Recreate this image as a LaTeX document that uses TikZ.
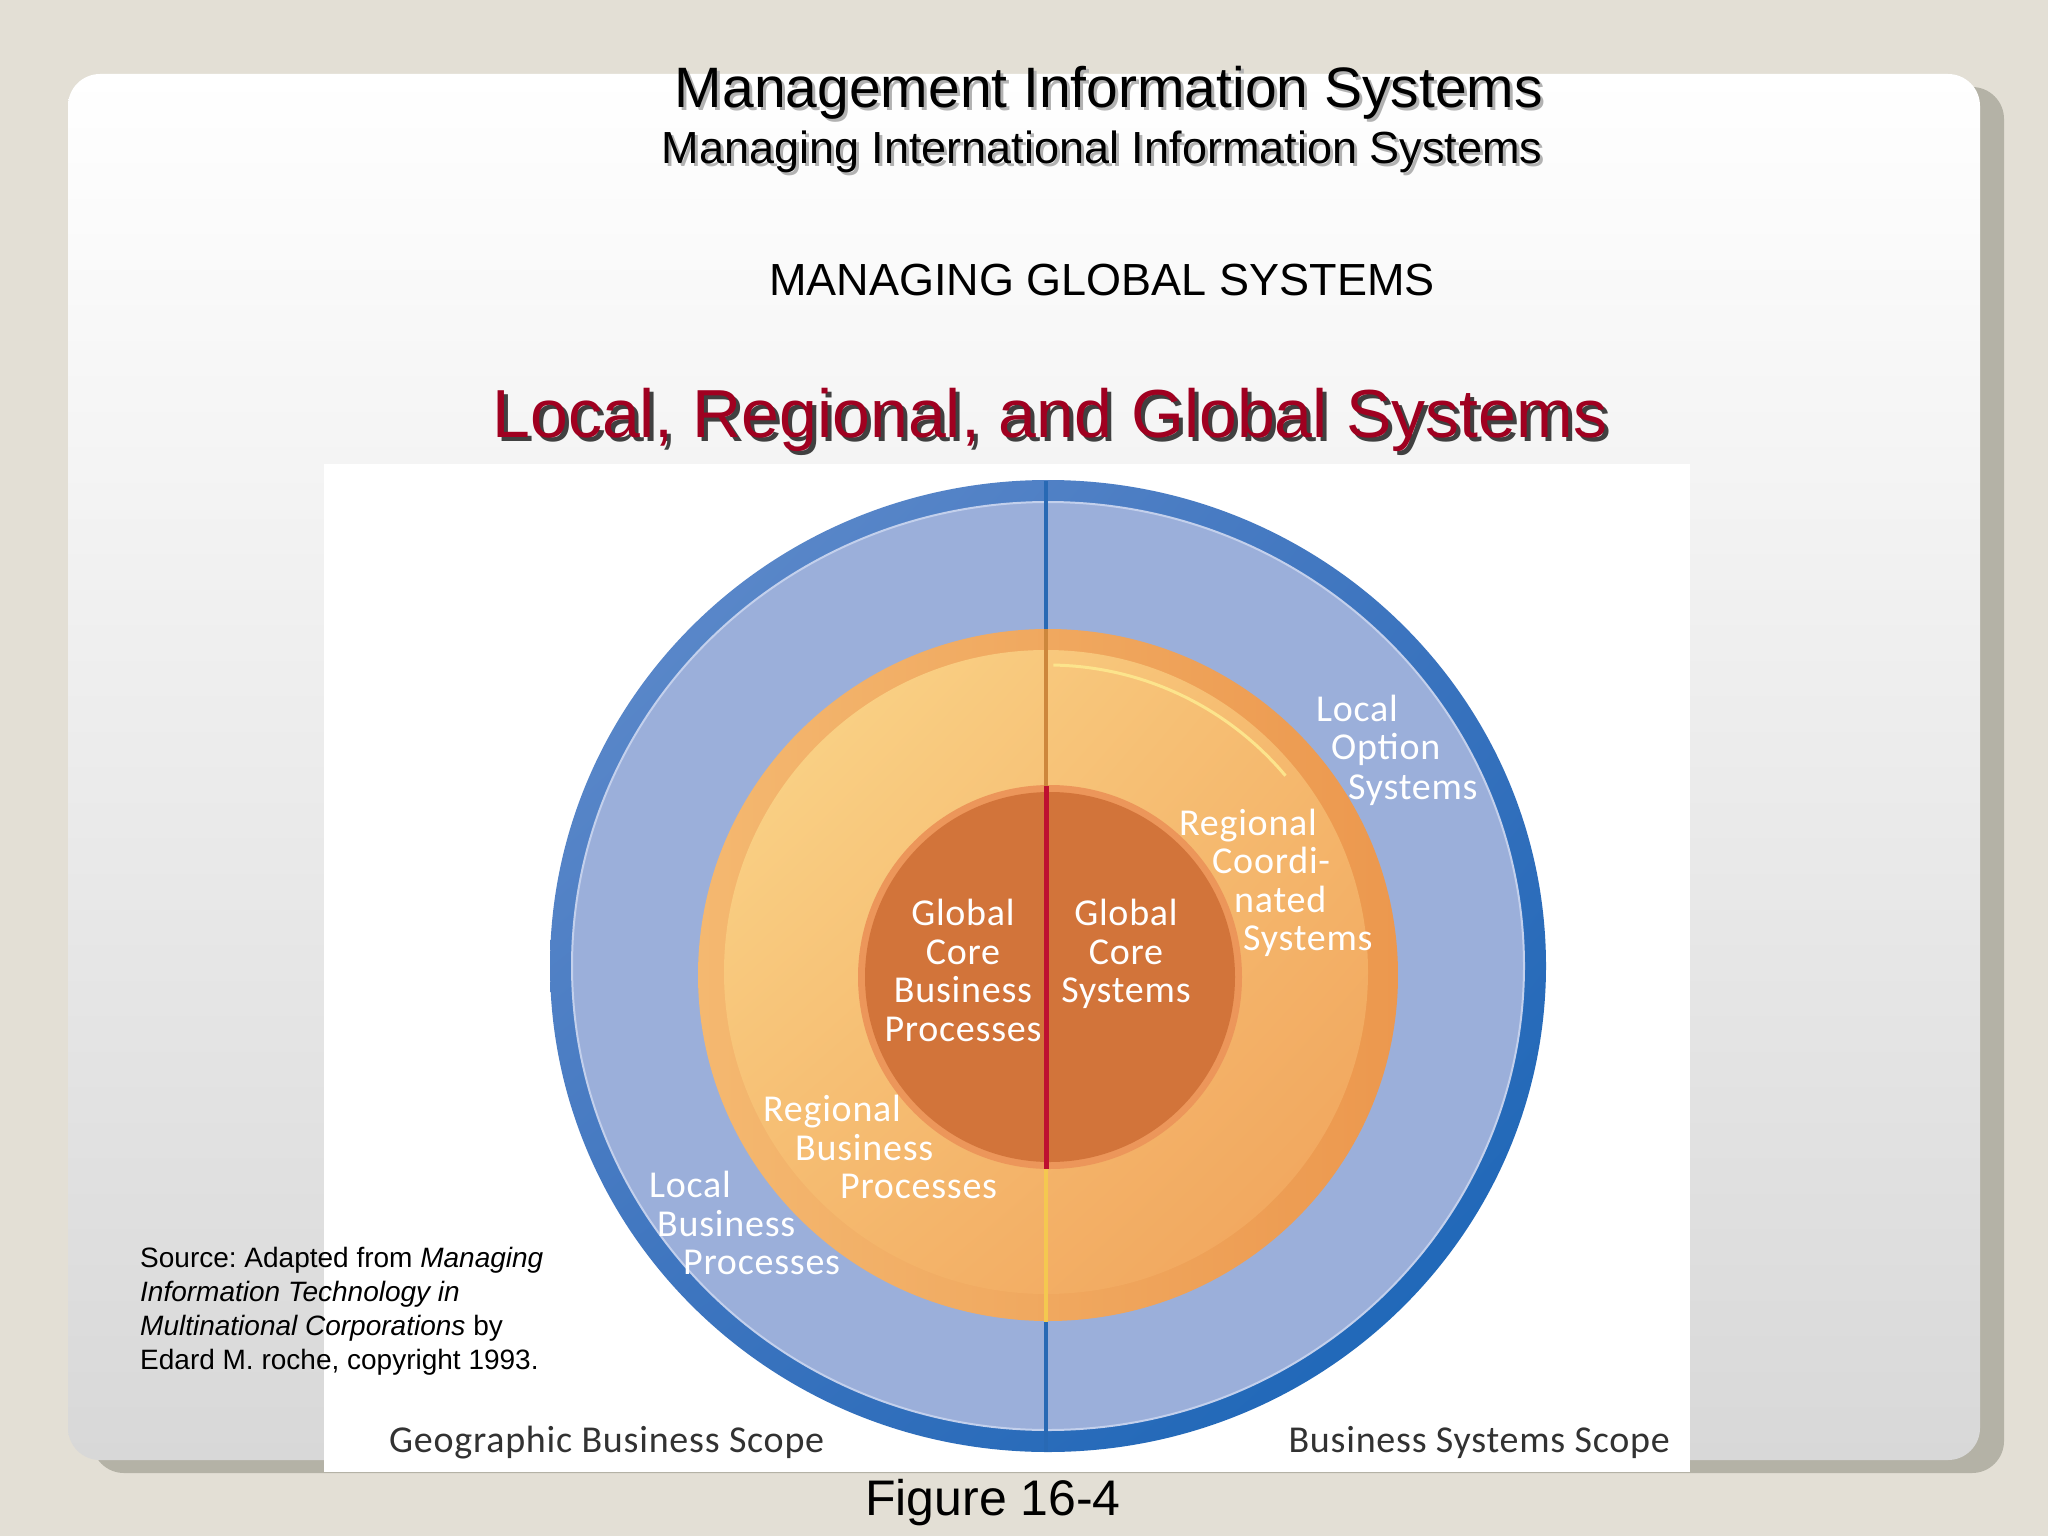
\documentclass[tikz,border=0pt]{standalone}
\usepackage{fontspec}
\setmainfont{Liberation Sans}
\newfontfamily\diagfont[LetterSpace=2]{Carlito}
\usetikzlibrary{shadings}
\frenchspacing

\definecolor{slidebg}{RGB}{227,223,213}
\definecolor{cardshadow}{RGB}{180,178,166}
\definecolor{cardgray}{RGB}{216,216,216}
\definecolor{ringblue}{RGB}{60,115,190}
\definecolor{ringbluedark}{RGB}{22,100,182}
\definecolor{ringbluelight}{RGB}{100,142,205}
\definecolor{fillblue}{RGB}{155,175,218}
\definecolor{edgeblue}{RGB}{195,208,236}
\definecolor{bandlight}{RGB}{244,184,112}
\definecolor{banddeep}{RGB}{236,152,78}
\definecolor{paleyellow}{RGB}{251,216,140}
\definecolor{midorange}{RGB}{245,185,110}
\definecolor{deeporange}{RGB}{240,162,90}
\definecolor{glint}{RGB}{252,228,140}
\definecolor{coreorange}{RGB}{210,116,58}
\definecolor{corerim}{RGB}{236,150,90}
\definecolor{splitblue}{RGB}{40,105,180}
\definecolor{splitgold}{RGB}{244,200,80}
\definecolor{splitbrown}{RGB}{205,135,60}
\definecolor{splitred}{RGB}{190,16,48}
\definecolor{titlered}{RGB}{160,0,32}
\definecolor{scopegray}{RGB}{50,50,50}

\begin{document}
\begin{tikzpicture}[x=1pt, y=-1pt,
		lbl/.style={text=white, font=\diagfont\fontsize{38}{38.5}\selectfont, inner sep=0pt},
		scopetext/.style={text=scopegray, font=\diagfont\fontsize{38}{40}\selectfont, inner sep=0pt},
		heading/.style={inner sep=0pt},
		shadowtext/.style={heading, text=gray!60}
	]

	\useasboundingbox (0,0) rectangle (2048,1536);
	\fill[slidebg] (0,0) rectangle (2048,1536);

	% slide card
	\fill[cardshadow, rounded corners=32pt] (92,87) rectangle (2004,1473);
	\shade[rounded corners=32pt, top color=white, middle color=white, bottom color=cardgray]
		(68,74) rectangle (1980,1460);
	\fill[white] (324,464) rectangle (1690,1472);

	% blue rings
	\shade[upper left=ringbluelight, upper right=ringblue, lower left=ringblue,
		lower right=ringbluedark] (1048,966) ellipse [x radius=498, y radius=486];
	\fill[fillblue, draw=edgeblue, line width=2pt] (1048,966) ellipse [x radius=476, y radius=464];

	% orange ring
	\shade[upper left=bandlight, upper right=banddeep, lower left=bandlight,
		lower right=banddeep] (1048,975) ellipse [x radius=350, y radius=346];
	\shade[upper left=paleyellow, upper right=midorange, lower left=midorange,
		lower right=deeporange] (1046,972) circle [radius=322];
	\draw[glint, line width=3pt] (1048,975) ++(-89:310) arc[start angle=-89, end angle=-40, radius=310];

	% core
	\fill[corerim] (1050,977) circle [radius=192];
	\fill[coreorange] (1050,977) circle [radius=185];

	% split line
	\draw[splitblue, line width=4pt] (1046,481) -- (1046,1452);
	\draw[splitbrown, line width=4pt] (1046,629) -- (1046,786);
	\draw[splitgold, line width=4pt] (1046,1169) -- (1046,1322);
	\draw[splitred, line width=5pt] (1046,786) -- (1046,1169);

	% labels
	\node[lbl, align=center, anchor=north] (gcbp) at (963,899) {Global\\Core\\Business\\Processes};
	\node[lbl, align=center, anchor=north] (gcs) at (1126,899) {Global\\Core\\Systems};

	\foreach \txt/\x/\y [count=\i] in {Regional/1179/824, Coordi-/1212/862, nated/1234/901, Systems/1243/939}
		\node[lbl, anchor=base west] (rcs\i) at (\x,\y+11) {\txt};
	\foreach \txt/\x/\y [count=\i] in {Local/1316/710, Option/1331/748, Systems/1348/788}
		\node[lbl, anchor=base west] (los\i) at (\x,\y+11) {\txt};
	\foreach \txt/\x/\y [count=\i] in {Regional/763/1110, Business/795/1149, Processes/840/1187}
		\node[lbl, anchor=base west] (rbp\i) at (\x,\y+11) {\txt};
	\foreach \txt/\x/\y [count=\i] in {Local/649/1186, Business/657/1225, Processes/683/1263}
		\node[lbl, anchor=base west] (lbp\i) at (\x,\y+11) {\txt};

	\node[scopetext, anchor=base west] (geo) at (389,1452) {Geographic Business Scope};
	\node[scopetext, anchor=base east] (bss) at (1670,1452) {Business Systems Scope};

	% headings
	\node[shadowtext, font=\fontsize{57}{68}\selectfont] (misshadow) at (1112,96) {Management Information Systems};
	\node[heading, font=\fontsize{57}{68}\selectfont] (mis) at (1109,93) {Management Information Systems};
	\node[shadowtext, font=\fontsize{45}{54}\selectfont] (miisshadow) at (1105,155) {Managing International Information Systems};
	\node[heading, font=\fontsize{45}{54}\selectfont] (miis) at (1102,152) {Managing International Information Systems};
	\node[heading, font=\fontsize{45}{54}\selectfont] (mgs) at (1102,280) {MANAGING GLOBAL SYSTEMS};
	\node[shadowtext, text=black!75, font=\fontsize{68}{80}\selectfont] (lrgshadow) at (1054,424) {Local, Regional, and Global Systems};
	\node[heading, text=titlered, font=\fontsize{68}{80}\selectfont] (lrg) at (1050,420) {Local, Regional, and Global Systems};

	\node[anchor=north west, align=left, inner sep=0pt, font=\fontsize{28}{34}\selectfont] (src) at (140,1247)
		{Source: Adapted from \textit{Managing}\\\textit{Information Technology in}\\
		\textit{Multinational Corporations} by\\Edard M. roche, copyright 1993.};

	\node[heading, font=\fontsize{50}{60}\selectfont] (fig) at (993,1503) {Figure 16-4};

\end{tikzpicture}
\end{document}
